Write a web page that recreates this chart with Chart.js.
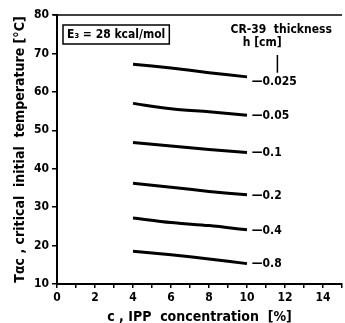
<!DOCTYPE html>
<html>
<head>
<meta charset="utf-8">
<script src="https://cdn.jsdelivr.net/npm/chart.js@4"></script>
<style>
  html, body { margin: 0; padding: 0; background: #fff; }
  canvas { display: block; }
</style>
</head>
<body>
<canvas id="chart" width="345" height="323"></canvas>
<script>
// IPP concentration [%]
const conc = [4, 6, 8, 10];
// critical initial temperature [°C] per CR-39 thickness h [cm]
const t0025 = [67.2, 66.2, 65.0, 63.9];
const t005 = [57.0, 55.6, 54.8, 53.9];
const t01 = [46.8, 45.9, 45.0, 44.2];
const t02 = [36.2, 35.2, 34.1, 33.2];
const t04 = [27.2, 26.0, 25.2, 24.1];
const t08 = [18.5, 17.6, 16.5, 15.3];
const thickness = ['0.025', '0.05', '0.1', '0.2', '0.4', '0.8'];
const labelY = [62.6, 53.7, 44.0, 33.0, 23.9, 15.2];
const labelX = 10.25;
const leaderX = [11.6, 11.6];
const leaderY = [69.6, 65.0];

const FONT = "'Liberation Sans Narrow', 'DejaVu Sans Condensed', 'Liberation Sans', sans-serif";

const series = [t0025, t005, t01, t02, t04, t08];
const datasets = series.map((vals, i) => ({
    label: 'h = ' + thickness[i],
    data: conc.map((c, j) => ({ x: c, y: vals[j] })),
    borderColor: '#000',
    borderWidth: 3,
    showLine: true,
    pointRadius: 0,
    tension: 0.3
}));
datasets.push({
    label: 'leader',
    data: leaderX.map((x, j) => ({ x: x, y: leaderY[j] })),
    borderColor: '#000',
    borderWidth: 1.5,
    showLine: true,
    pointRadius: 0
});

const annotations = {
    id: 'annotations',
    afterDraw(chart) {
        const { ctx, chartArea, scales } = chart;
        const xs = scales.x, ys = scales.y;
        ctx.save();
        // top frame line
        ctx.strokeStyle = '#000';
        ctx.lineWidth = 1.5;
        ctx.beginPath();
        ctx.moveTo(chartArea.left - 4, chartArea.top);
        ctx.lineTo(chartArea.right, chartArea.top);
        ctx.stroke();

        ctx.fillStyle = '#000';
        ctx.textBaseline = 'middle';
        // thickness labels
        ctx.font = 'bold 12px ' + FONT;
        ctx.textAlign = 'left';
        thickness.forEach((t, i) => {
            ctx.fillText('\u2014' + t, xs.getPixelForValue(labelX), ys.getPixelForValue(labelY[i]));
        });
        // legend heading
        ctx.textAlign = 'center';
        ctx.fillText('CR-39  thickness', xs.getPixelForValue(11.8), chartArea.top + 15);
        ctx.fillText('h [cm]', xs.getPixelForValue(10.8), chartArea.top + 28);

        // activation energy box
        const txt = 'E\u2083 = 28 kcal/mol';
        ctx.textAlign = 'left';
        const w = ctx.measureText(txt).width;
        const bx = chartArea.left + 6, by = chartArea.top + 10;
        ctx.fillText(txt, bx + 4, by + 10);
        ctx.lineWidth = 1.5;
        ctx.strokeRect(bx, by, w + 8, 19);
        ctx.restore();
    }
};

new Chart(document.getElementById('chart').getContext('2d'), {
    type: 'scatter',
    data: { datasets: datasets },
    options: {
        responsive: false,
        animation: false,
        layout: { padding: { top: 15, right: 0, left: 0, bottom: 0 } },
        plugins: { legend: { display: false }, tooltip: { enabled: false } },
        scales: {
            x: {
                type: 'linear',
                min: 0,
                max: 15,
                afterFit: scale => { scale.height = 39; },
                border: { color: '#000', width: 2 },
                grid: { drawOnChartArea: false, drawTicks: true, tickLength: 4, color: '#000', lineWidth: 1.5 },
                ticks: {
                    stepSize: 1,
                    padding: 3,
                    color: '#000',
                    font: { family: FONT, size: 12, weight: 'bold' },
                    maxRotation: 0,
                    autoSkip: false,
                    callback: v => (v % 2 === 0 && v < 15 ? String(v) : '')
                },
                title: {
                    display: true,
                    text: 'c , IPP  concentration  [%]',
                    color: '#000',
                    font: { family: FONT, size: 14, weight: 'bold' },
                    padding: { top: 0, bottom: -3 }
                }
            },
            y: {
                type: 'linear',
                min: 10,
                max: 80,
                afterFit: scale => { scale.width = 57; },
                border: { color: '#000', width: 2 },
                grid: { drawOnChartArea: false, drawTicks: true, tickLength: 5, color: '#000', lineWidth: 1.5 },
                ticks: {
                    stepSize: 10,
                    padding: 3,
                    color: '#000',
                    font: { family: FONT, size: 12, weight: 'bold' }
                },
                title: {
                    display: true,
                    text: 'T\u03b1c , critical  initial  temperature [\u00b0C]',
                    color: '#000',
                    font: { family: FONT, size: 14, weight: 'bold' },
                    padding: { top: 12, bottom: 0 }
                }
            }
        }
    },
    plugins: [annotations]
});
</script>
</body>
</html>
